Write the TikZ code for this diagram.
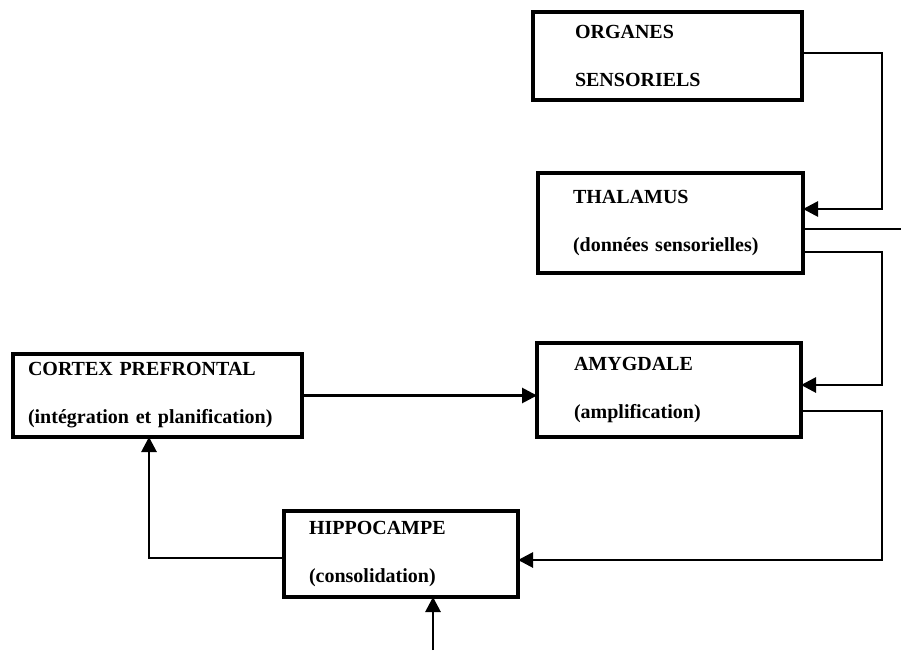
\documentclass[tikz,border=0pt]{standalone}
\usepackage{fontspec}
\setmainfont{Liberation Serif}
\usetikzlibrary{arrows.meta}
\tikzset{bloc/.style={draw,line width=3.2pt,anchor=north west,outer sep=0pt,align=left,inner ysep=0pt,font=\fontsize{20}{48}\selectfont\bfseries}}
\begin{document}
\begin{tikzpicture}[x=1pt,y=-1pt,>={Triangle[length=15pt,width=15pt]},line width=2.8pt]
	\useasboundingbox (0,0) rectangle (901,650);
	\node[bloc,minimum width=269pt,minimum height=88pt,text width=185pt,inner xsep=42pt] (organes) at (533,12) {ORGANES\\SENSORIELS};
	\node[bloc,minimum width=265pt,minimum height=100pt,text width=195pt,inner xsep=35pt] (thalamus) at (538,173) {THALAMUS\\(données sensorielles)};
	\node[bloc,minimum width=264pt,minimum height=94pt,text width=190pt,inner xsep=37pt] (amygdale) at (537,343) {AMYGDALE\\(amplification)};
	\node[bloc,minimum width=289pt,minimum height=83pt,text width=259pt,inner xsep=15pt] (cortex) at (13,354) {CORTEX PREFRONTAL\\(intégration et planification)};
	\node[bloc,minimum width=234pt,minimum height=86pt,text width=184pt,inner xsep=25pt] (hippocampe) at (284,511) {HIPPOCAMPE\\(consolidation)};
	\coordinate (sortie) at (901,229);
	\coordinate (entree) at (433,650);
	\draw[->] ([yshift=3pt]organes.east) -- ++(80,0) |- ([yshift=14pt]thalamus.east);
	\draw ([yshift=-6pt]thalamus.east) -- (sortie);
	\draw[->] ([yshift=-29pt]thalamus.east) -- ++(79,0) |- ([yshift=5pt]amygdale.east);
	\draw[->] ([yshift=-21pt]amygdale.east) -- ++(81,0) |- ([yshift=-6pt]hippocampe.east);
	\draw[->] (cortex.east) -- (cortex.east -| amygdale.west);
	\draw[->] ([yshift=-4pt]hippocampe.west) -| ([xshift=-8.5pt]cortex.south);
	\draw[->] (entree) -- (entree |- hippocampe.south);
\end{tikzpicture}
\end{document}
